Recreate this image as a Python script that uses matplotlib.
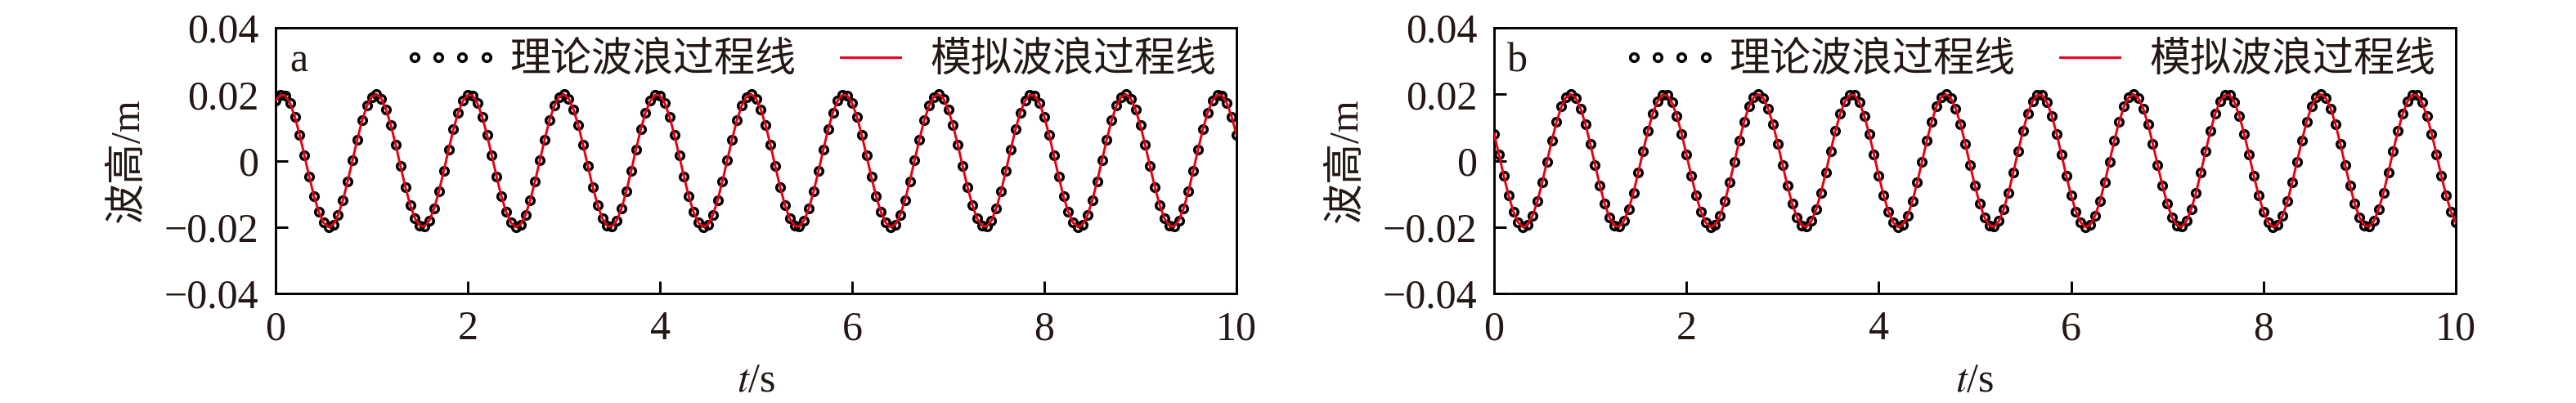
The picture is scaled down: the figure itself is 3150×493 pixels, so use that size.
import numpy as np
import matplotlib.pyplot as plt
from matplotlib.legend_handler import HandlerLine2D
from matplotlib.ticker import FuncFormatter

# fontes: serif para números, CJK para o texto chinês
plt.rcParams['font.family'] = ['Liberation Serif', 'Noto Sans CJK SC']
plt.rcParams['mathtext.fontset'] = 'stix'
plt.rcParams['axes.unicode_minus'] = True

# Dados (amostras a cada 0.05 s, 0..10 s), elevação em m
# painel a
eta_a = [
    0.0181, 0.0198, 0.0196, 0.0173, 0.0132, 0.0077, 0.0015, -0.0049, -0.0108, -0.0155, -0.0187, -0.0200, -0.0192,
    -0.0164, -0.0119, -0.0062, 0.0001, 0.0064, 0.0121, 0.0165, 0.0192, 0.0200, 0.0187, 0.0154, 0.0106, 0.0047,
    -0.0017, -0.0079, -0.0133, -0.0174, -0.0196, -0.0198, -0.0180, -0.0144, -0.0092, -0.0031, 0.0033, 0.0094, 0.0145,
    0.0181, 0.0198, 0.0196, 0.0173, 0.0132, 0.0077, 0.0015, -0.0049, -0.0108, -0.0155, -0.0187, -0.0200, -0.0192,
    -0.0164, -0.0119, -0.0062, 0.0001, 0.0064, 0.0121, 0.0165, 0.0192, 0.0200, 0.0187, 0.0154, 0.0106, 0.0047,
    -0.0017, -0.0079, -0.0133, -0.0174, -0.0196, -0.0198, -0.0180, -0.0144, -0.0092, -0.0031, 0.0033, 0.0094, 0.0145,
    0.0181, 0.0198, 0.0196, 0.0173, 0.0132, 0.0077, 0.0015, -0.0049, -0.0108, -0.0155, -0.0187, -0.0200, -0.0192,
    -0.0164, -0.0119, -0.0062, 0.0001, 0.0064, 0.0121, 0.0165, 0.0192, 0.0200, 0.0187, 0.0154, 0.0106, 0.0047,
    -0.0017, -0.0079, -0.0133, -0.0174, -0.0196, -0.0198, -0.0180, -0.0144, -0.0092, -0.0031, 0.0033, 0.0094, 0.0145,
    0.0181, 0.0198, 0.0196, 0.0173, 0.0132, 0.0077, 0.0015, -0.0049, -0.0108, -0.0155, -0.0187, -0.0200, -0.0192,
    -0.0164, -0.0119, -0.0062, 0.0001, 0.0064, 0.0121, 0.0165, 0.0192, 0.0200, 0.0187, 0.0154, 0.0106, 0.0047,
    -0.0017, -0.0079, -0.0133, -0.0174, -0.0196, -0.0198, -0.0180, -0.0144, -0.0092, -0.0031, 0.0033, 0.0094, 0.0145,
    0.0181, 0.0198, 0.0196, 0.0173, 0.0132, 0.0077, 0.0015, -0.0049, -0.0108, -0.0155, -0.0187, -0.0200, -0.0192,
    -0.0164, -0.0119, -0.0062, 0.0001, 0.0064, 0.0121, 0.0165, 0.0192, 0.0200, 0.0187, 0.0154, 0.0106, 0.0047,
    -0.0017, -0.0079, -0.0133, -0.0174, -0.0196, -0.0198, -0.0180, -0.0144, -0.0092, -0.0031, 0.0033, 0.0094, 0.0145,
    0.0181, 0.0198, 0.0196, 0.0173, 0.0132, 0.0077,
]

# painel b
eta_b = [
    0.0081, 0.0019, -0.0045, -0.0104, -0.0153, -0.0186, -0.0200, -0.0193, -0.0166, -0.0123, -0.0066, -0.0003, 0.0060,
    0.0117, 0.0163, 0.0191, 0.0200, 0.0188, 0.0157, 0.0110, 0.0051, -0.0013, -0.0075, -0.0130, -0.0171, -0.0195,
    -0.0199, -0.0182, -0.0146, -0.0096, -0.0035, 0.0029, 0.0090, 0.0142, 0.0179, 0.0198, 0.0197, 0.0175, 0.0135,
    0.0081, 0.0019, -0.0045, -0.0104, -0.0153, -0.0186, -0.0200, -0.0193, -0.0166, -0.0123, -0.0066, -0.0003, 0.0060,
    0.0117, 0.0163, 0.0191, 0.0200, 0.0188, 0.0157, 0.0110, 0.0051, -0.0013, -0.0075, -0.0130, -0.0171, -0.0195,
    -0.0199, -0.0182, -0.0146, -0.0096, -0.0035, 0.0029, 0.0090, 0.0142, 0.0179, 0.0198, 0.0197, 0.0175, 0.0135,
    0.0081, 0.0019, -0.0045, -0.0104, -0.0153, -0.0186, -0.0200, -0.0193, -0.0166, -0.0123, -0.0066, -0.0003, 0.0060,
    0.0117, 0.0163, 0.0191, 0.0200, 0.0188, 0.0157, 0.0110, 0.0051, -0.0013, -0.0075, -0.0130, -0.0171, -0.0195,
    -0.0199, -0.0182, -0.0146, -0.0096, -0.0035, 0.0029, 0.0090, 0.0142, 0.0179, 0.0198, 0.0197, 0.0175, 0.0135,
    0.0081, 0.0019, -0.0045, -0.0104, -0.0153, -0.0186, -0.0200, -0.0193, -0.0166, -0.0123, -0.0066, -0.0003, 0.0060,
    0.0117, 0.0163, 0.0191, 0.0200, 0.0188, 0.0157, 0.0110, 0.0051, -0.0013, -0.0075, -0.0130, -0.0171, -0.0195,
    -0.0199, -0.0182, -0.0146, -0.0096, -0.0035, 0.0029, 0.0090, 0.0142, 0.0179, 0.0198, 0.0197, 0.0175, 0.0135,
    0.0081, 0.0019, -0.0045, -0.0104, -0.0153, -0.0186, -0.0200, -0.0193, -0.0166, -0.0123, -0.0066, -0.0003, 0.0060,
    0.0117, 0.0163, 0.0191, 0.0200, 0.0188, 0.0157, 0.0110, 0.0051, -0.0013, -0.0075, -0.0130, -0.0171, -0.0195,
    -0.0199, -0.0182, -0.0146, -0.0096, -0.0035, 0.0029, 0.0090, 0.0142, 0.0179, 0.0198, 0.0197, 0.0175, 0.0135,
    0.0081, 0.0019, -0.0045, -0.0104, -0.0153, -0.0186,
]

panel_tags = ["a", "b"]
xticks = [0, 2, 4, 6, 8, 10]
yticks = [-0.04, -0.02, 0, 0.02, 0.04]
label_theory = "理论波浪过程线"
label_sim = "模拟波浪过程线"

TEXT = "#231815"
RED = "#e60012"


def fmt_y(v, pos):
    if abs(v) < 1e-9:
        return "0"
    return f"{v:.2f}".replace("-", "\u2212")


fig = plt.figure(figsize=(10.5, 493 / 300), dpi=300)
ax_a = fig.add_axes([0.1070, 0.2718, 0.3730, 0.6592])
ax_b = fig.add_axes([0.5800, 0.2718, 0.3733, 0.6592])

for ax, eta, tag in zip([ax_a, ax_b], [eta_a, eta_b], panel_tags):
    t = np.linspace(0, 10, len(eta))
    h_th, = ax.plot(t, eta, ls="none", marker="o", ms=2.3, mfc="none",
                    mec="black", mew=0.85, label=label_theory, zorder=2)
    h_sim, = ax.plot(t, eta, color=RED, lw=0.7, label=label_sim, zorder=3)

    ax.set_xlim(0, 10)
    ax.set_ylim(-0.04, 0.04)
    ax.set_xticks(xticks)
    ax.set_yticks(yticks)
    ax.yaxis.set_major_formatter(FuncFormatter(fmt_y))
    ax.tick_params(direction="in", length=3.6, width=0.7, labelsize=12,
                   pad=5, labelcolor=TEXT, top=False, right=False)
    for s in ax.spines.values():
        s.set_linewidth(0.7)

    ax.set_xlabel("$t$/s", fontsize=12, color=TEXT, labelpad=4)
    ax.set_ylabel("波高/m", fontsize=12, color=TEXT, labelpad=5)
    ax.text(0.024, 0.874, tag, transform=ax.transAxes, ha="center",
            va="center", fontsize=12, color=TEXT)

    ax.legend(handles=[h_th, h_sim], loc="center right",
              bbox_to_anchor=(0.979, 0.874), ncol=2, frameon=False,
              fontsize=12, labelcolor=TEXT, handlelength=2.06,
              handletextpad=0.42, columnspacing=0.8, borderpad=0,
              borderaxespad=0, numpoints=4,
              handler_map={h_th: HandlerLine2D(marker_pad=0.15, numpoints=4)})

fig.savefig("out.png", dpi=300, facecolor="white")
